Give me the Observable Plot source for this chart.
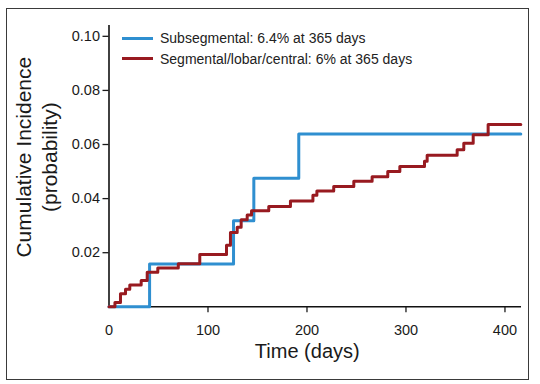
<!DOCTYPE html>
<html><head><meta charset="utf-8">
<script src="https://cdn.jsdelivr.net/npm/d3@7"></script>
<script src="https://cdn.jsdelivr.net/npm/@observablehq/plot@0.6"></script>
<style>
html,body{margin:0;padding:0;background:#fff;}
#wrap{position:relative;width:540px;height:384px;overflow:hidden;font-family:"Liberation Sans",Arial,sans-serif;}
#chart svg{display:block;}
#border{position:absolute;left:6px;top:8px;width:523px;height:372px;border:1.5px solid #3a3a3a;box-sizing:border-box;pointer-events:none;}
#legend{position:absolute;left:122px;top:28px;font-size:14px;color:#222;}
.row{display:flex;align-items:center;height:20.5px;}
.sw{width:31px;height:3px;margin-right:7px;}
</style></head><body>
<div id="wrap"><div id="chart"></div><div id="legend"></div><div id="border"></div></div>
<script>
const seriesNames = ["Subsegmental", "Segmental/lobar/central"];
const legendLabels = ["Subsegmental: 6.4% at 365 days", "Segmental/lobar/central: 6% at 365 days"];
const seriesColors = ["#2f8fd0", "#981a20"];

const subDays   = [0, 41, 125.8, 146.3, 191.7, 416];
const subValues = [0, 0.0158, 0.0318, 0.0475, 0.0639, 0.0639];

const segDays   = [0, 6, 11.6, 16.7, 21, 32.5, 38.6, 49.3, 70, 91.7, 118.7, 122.7, 129.5, 133.5, 139.6, 144, 161.4, 183.3, 206, 210, 227, 247.3, 265.8, 281.6, 293.8, 318.7, 321.4, 351.7, 358.4, 367.9, 383, 416];
const segValues = [0, 0.0016, 0.0048, 0.0065, 0.0081, 0.0097, 0.0128, 0.0143, 0.0159, 0.0193, 0.0228, 0.0275, 0.0294, 0.0322, 0.0339, 0.0355, 0.0371, 0.0391, 0.0412, 0.0428, 0.0445, 0.0464, 0.0481, 0.0500, 0.0519, 0.0538, 0.0560, 0.0581, 0.0605, 0.0636, 0.0674, 0.0674];

const xTickValues = [0, 100, 200, 300, 400];
const yTickValues = [0.02, 0.04, 0.06, 0.08, 0.10];
const xDomain = [0, 416.7];
const yDomain = [0, 0.104];
const xTitle = "Time (days)";
const yTitle = "Cumulative Incidence\n(probability)";

const data = [
  ...subDays.map((d, i) => ({series: seriesNames[0], day: d, value: subValues[i]})),
  ...segDays.map((d, i) => ({series: seriesNames[1], day: d, value: segValues[i]}))
];

const plot = Plot.plot({
  width: 540, height: 384,
  marginLeft: 108.5, marginRight: 19, marginTop: 25, marginBottom: 77.7,
  style: {fontFamily: "'Liberation Sans', Arial, sans-serif", fontSize: "14.5px", color: "#1a1a1a", background: "transparent", overflow: "visible"},
  x: {domain: xDomain},
  y: {domain: yDomain},
  color: {domain: seriesNames, range: seriesColors},
  marks: [
    Plot.axisX({ticks: xTickValues.filter(d => d > 0), tickSize: 6, tickFormat: () => "", label: null, strokeWidth: 1.3}),
    Plot.axisX({ticks: xTickValues, tickSize: 0, tickPadding: 18, tickFormat: d => String(d), label: null}),
    Plot.axisY({ticks: yTickValues, tickSize: 6, tickPadding: 3, tickFormat: d3.format(".2f"), label: null, strokeWidth: 1.3, style: {letterSpacing: "0.8px"}}),
    Plot.ruleX([0], {y1: yDomain[0], y2: yDomain[1], stroke: "#111", strokeWidth: 1.6}),
    Plot.ruleY([0], {x1: xDomain[0], x2: xDomain[1], stroke: "#111", strokeWidth: 1.6}),
    Plot.line(data, {x: "day", y: "value", stroke: "series", z: "series", curve: "step-after", strokeWidth: 3}),
    Plot.text([xTitle], {text: d => d, frameAnchor: "bottom", dx: -8, dy: 51, fontSize: 20, fill: "#1a1a1a"}),
    Plot.text([yTitle], {text: d => d, frameAnchor: "left", textAnchor: "middle", rotate: -90, dx: -73, dy: -9, fontSize: 21, lineHeight: 1.2, fill: "#1a1a1a"})
  ]
});
document.getElementById("chart").appendChild(plot);

const legend = document.getElementById("legend");
legendLabels.forEach((t, i) => {
  const row = document.createElement("div");
  row.className = "row";
  const sw = document.createElement("div");
  sw.className = "sw";
  sw.style.background = seriesColors[i];
  const tx = document.createElement("span");
  tx.textContent = t;
  row.appendChild(sw); row.appendChild(tx);
  legend.appendChild(row);
});
</script>
</body></html>
